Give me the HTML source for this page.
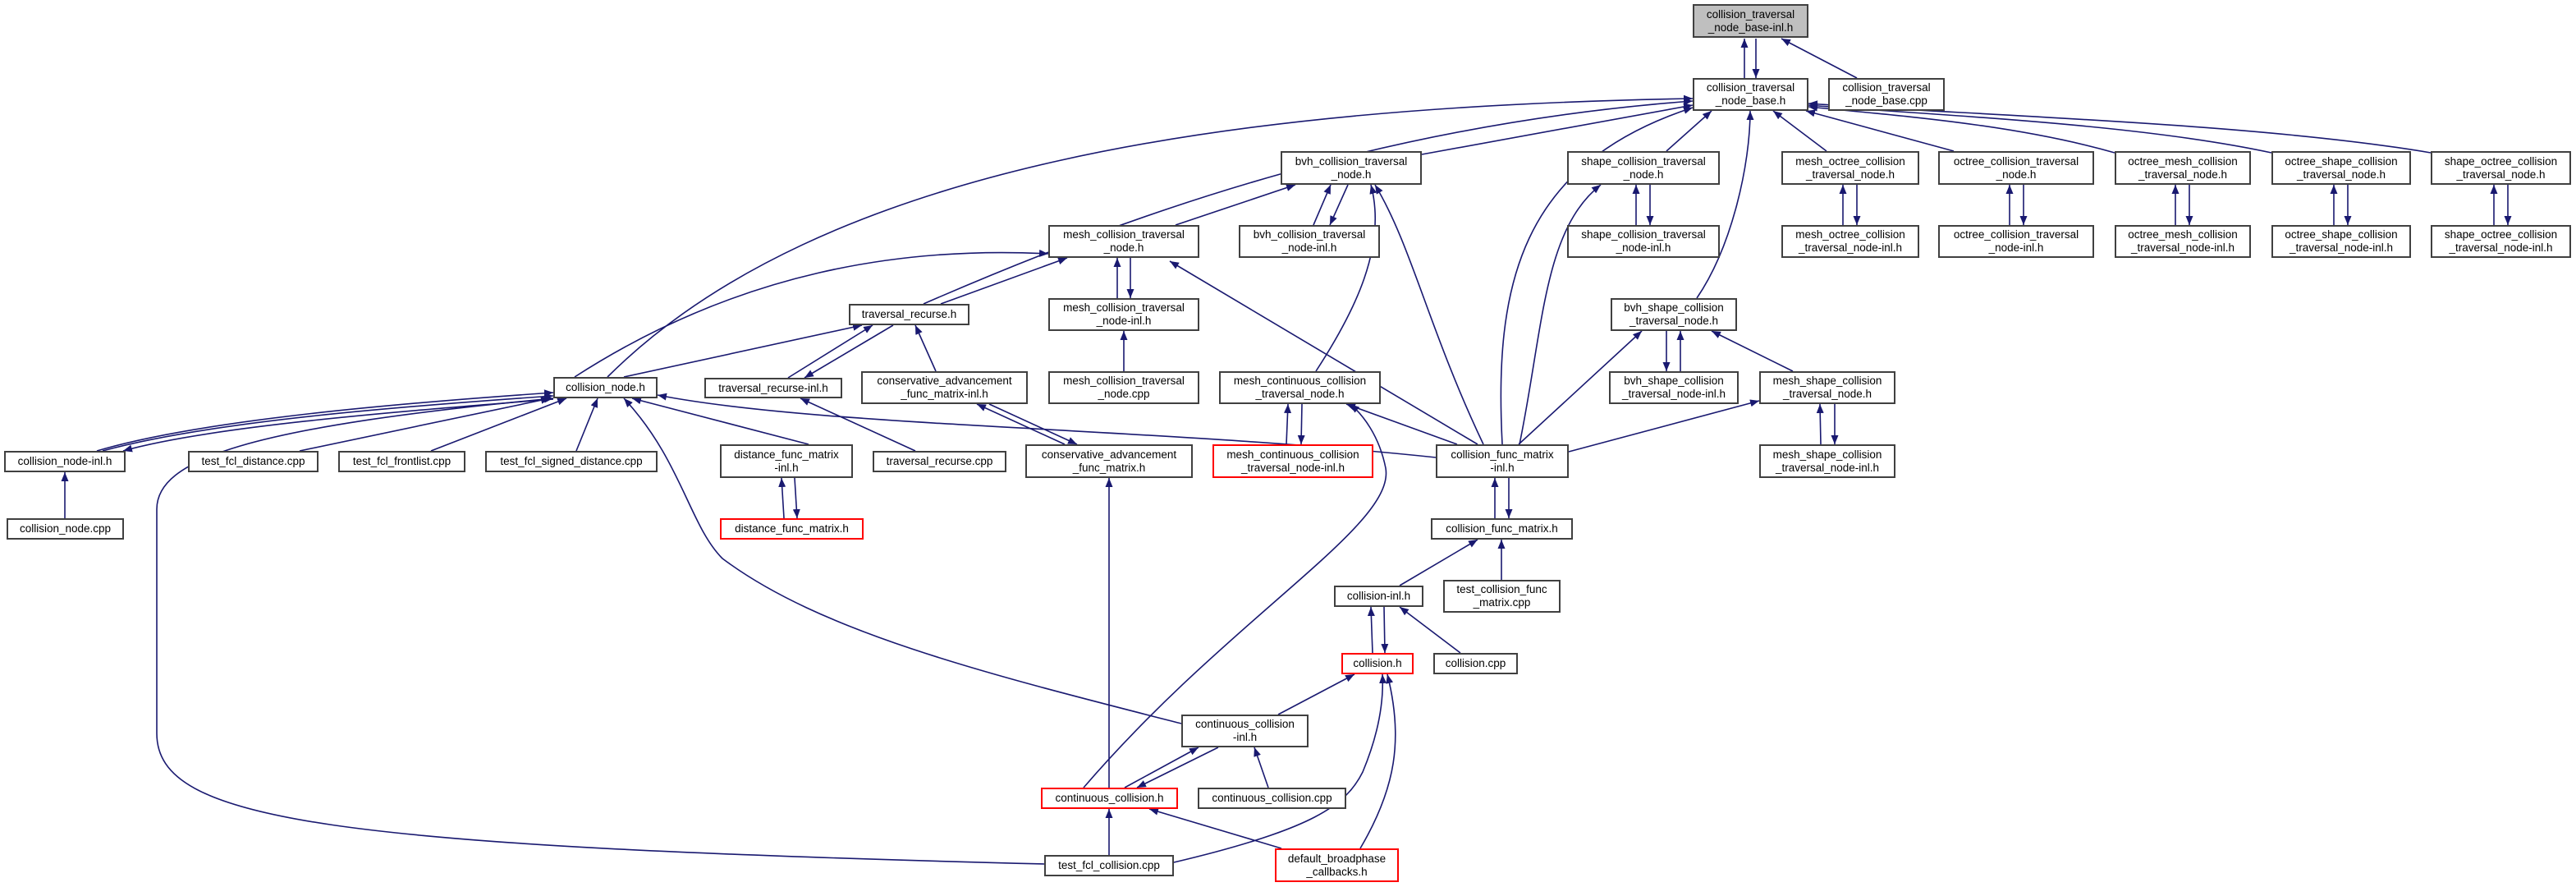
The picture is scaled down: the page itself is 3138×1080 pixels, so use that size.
<!DOCTYPE html>
<html><head><meta charset="utf-8"><style>
html,body{margin:0;padding:0;background:#fff}
#c{position:relative;width:3138px;height:1080px;overflow:hidden;background:#fff}
svg{position:absolute;left:0;top:0}
.n{position:absolute;box-sizing:border-box;border:2px solid #404040;background:#fff;display:flex;align-items:center;justify-content:center;text-align:center;font-family:"Liberation Sans",sans-serif;font-size:13.5px;line-height:16px;color:#000;white-space:nowrap}
.r{border-color:#ff0000}
.g{background:#bfbfbf}
</style></head><body><div id="c">
<svg width="3138" height="1080" viewBox="0 0 3138 1080">
<defs><marker id="a" markerUnits="userSpaceOnUse" markerWidth="12" markerHeight="9" refX="11" refY="4.5" orient="auto"><path d="M0,0 L11,4.5 L0,9 z" fill="#191970"/></marker></defs>
<g fill="none" stroke="#191970" stroke-width="1.6" marker-end="url(#a)">
<path d="M2125,95 L2125,47"/><path d="M2139,47 L2139,95"/><path d="M2262,95 L2170,47"/>
<path d="M740,459 C1000,200 1500,130 2062,120"/>
<path d="M1125,370 C1400,250 1700,150 2062,123"/>
<path d="M1732,188 L2062,128"/>
<path d="M1830,541 C1820,350 1850,200 2062,131"/>
<path d="M2030,184 L2085,135"/>
<path d="M2067,363 C2110,300 2132,200 2132,135"/>
<path d="M2225,184 L2160,135"/>
<path d="M2380,184 L2200,135"/>
<path d="M2576,186 C2450,150 2300,140 2203,130"/>
<path d="M2767,186 C2600,150 2350,140 2203,128"/>
<path d="M2961,186 C2750,150 2400,140 2203,126"/>
<path d="M1432,274 L1578,225"/><path d="M1600,274 L1621,225"/><path d="M1642,225 L1620,274"/>
<path d="M1603,452 C1650,380 1690,300 1670,225"/>
<path d="M1807,541 C1740,400 1720,300 1675,225"/>
<path d="M1993,274 L1993,225"/><path d="M2010,225 L2010,274"/>
<path d="M1851,541 C1880,400 1880,280 1950,225"/>
<path d="M2245,274 L2245,225"/><path d="M2262,225 L2262,274"/>
<path d="M2448,274 L2448,225"/><path d="M2465,225 L2465,274"/>
<path d="M2650,274 L2650,225"/><path d="M2667,225 L2667,274"/>
<path d="M2843,274 L2843,225"/><path d="M2860,225 L2860,274"/>
<path d="M3038,274 L3038,225"/><path d="M3055,225 L3055,274"/>
<path d="M700,459 C900,330 1100,300 1277,309"/>
<path d="M1146,370 L1300,314"/>
<path d="M1361,363 L1361,314"/><path d="M1377,314 L1377,363"/>
<path d="M1800,541 L1425,318"/>
<path d="M1369,452 L1369,403"/>
<path d="M760,459 L1050,396"/><path d="M960,460 L1063,396"/><path d="M1088,396 L980,460"/>
<path d="M1140,452 L1115,396"/>
<path d="M2030,403 L2030,452"/><path d="M2047,452 L2047,403"/>
<path d="M2184,452 L2085,403"/><path d="M1850,541 L2000,403"/>
<path d="M1567,541 L1569,492"/><path d="M1586,492 L1585,541"/>
<path d="M1775,541 L1640,492"/>
<path d="M1320,959 C1500,750 1700,640 1688,570 C1680,530 1660,505 1645,492"/>
<path d="M118,549 C250,510 500,490 674,478"/>
<path d="M125,549 C260,512 500,494 674,482"/>
<path d="M674,486 C500,500 260,518 150,549"/>
<path d="M1272,1052 C400,1030 191,1000 191,893 L191,620 C191,560 300,520 674,485"/>
<path d="M365,549 L670,485"/><path d="M525,549 L690,485"/><path d="M702,549 L728,485"/>
<path d="M985,541 L770,485"/>
<path d="M1749,557 C1400,520 1000,520 801,481"/>
<path d="M1439,881 C1200,820 1000,770 880,680 C840,640 830,560 760,485"/>
<path d="M955,631 L952,582"/><path d="M968,582 L971,631"/>
<path d="M1297,541 L1190,492"/><path d="M1205,492 L1312,541"/>
<path d="M1351,959 L1351,582"/>
<path d="M1115,549 L975,485"/>
<path d="M2218,541 L2217,492"/><path d="M2235,492 L2235,541"/>
<path d="M1911,550 L2143,488"/>
<path d="M1821,631 L1821,582"/><path d="M1838,582 L1838,631"/>
<path d="M1705,713 L1800,657"/><path d="M1829,706 L1829,657"/>
<path d="M1672,795 L1670,739"/><path d="M1686,739 L1687,795"/>
<path d="M1779,795 L1705,739"/>
<path d="M1557,870 L1650,821"/>
<path d="M1430,1050 C1600,1010 1640,980 1660,940 C1685,880 1685,840 1684,821"/>
<path d="M1657,1033 C1700,960 1710,900 1690,821"/>
<path d="M1370,959 L1460,910"/><path d="M1484,910 L1385,959"/>
<path d="M1545,959 L1528,910"/>
<path d="M1351,1041 L1351,985"/><path d="M1561,1033 L1400,985"/>
<path d="M79,631 L79,575"/>
</g></svg>
<div class="n g" style="left:2062px;top:5px;width:141px;height:41px">collision_traversal<br>_node_base-inl.h</div>
<div class="n" style="left:2062px;top:95px;width:141px;height:40px">collision_traversal<br>_node_base.h</div>
<div class="n" style="left:2227px;top:95px;width:142px;height:40px">collision_traversal<br>_node_base.cpp</div>
<div class="n" style="left:1560px;top:184px;width:172px;height:41px">bvh_collision_traversal<br>_node.h</div>
<div class="n" style="left:1909px;top:184px;width:186px;height:41px">shape_collision_traversal<br>_node.h</div>
<div class="n" style="left:2170px;top:184px;width:168px;height:41px">mesh_octree_collision<br>_traversal_node.h</div>
<div class="n" style="left:2361px;top:184px;width:190px;height:41px">octree_collision_traversal<br>_node.h</div>
<div class="n" style="left:2576px;top:184px;width:166px;height:41px">octree_mesh_collision<br>_traversal_node.h</div>
<div class="n" style="left:2767px;top:184px;width:170px;height:41px">octree_shape_collision<br>_traversal_node.h</div>
<div class="n" style="left:2961px;top:184px;width:171px;height:41px">shape_octree_collision<br>_traversal_node.h</div>
<div class="n" style="left:1277px;top:274px;width:184px;height:40px">mesh_collision_traversal<br>_node.h</div>
<div class="n" style="left:1509px;top:274px;width:172px;height:40px">bvh_collision_traversal<br>_node-inl.h</div>
<div class="n" style="left:1909px;top:274px;width:186px;height:40px">shape_collision_traversal<br>_node-inl.h</div>
<div class="n" style="left:2170px;top:274px;width:168px;height:40px">mesh_octree_collision<br>_traversal_node-inl.h</div>
<div class="n" style="left:2361px;top:274px;width:190px;height:40px">octree_collision_traversal<br>_node-inl.h</div>
<div class="n" style="left:2576px;top:274px;width:166px;height:40px">octree_mesh_collision<br>_traversal_node-inl.h</div>
<div class="n" style="left:2767px;top:274px;width:170px;height:40px">octree_shape_collision<br>_traversal_node-inl.h</div>
<div class="n" style="left:2961px;top:274px;width:171px;height:40px">shape_octree_collision<br>_traversal_node-inl.h</div>
<div class="n" style="left:1034px;top:370px;width:147px;height:26px">traversal_recurse.h</div>
<div class="n" style="left:1277px;top:363px;width:184px;height:40px">mesh_collision_traversal<br>_node-inl.h</div>
<div class="n" style="left:1962px;top:363px;width:154px;height:40px">bvh_shape_collision<br>_traversal_node.h</div>
<div class="n" style="left:674px;top:459px;width:127px;height:26px">collision_node.h</div>
<div class="n" style="left:858px;top:460px;width:168px;height:25px">traversal_recurse-inl.h</div>
<div class="n" style="left:1049px;top:452px;width:203px;height:40px">conservative_advancement<br>_func_matrix-inl.h</div>
<div class="n" style="left:1277px;top:452px;width:184px;height:40px">mesh_collision_traversal<br>_node.cpp</div>
<div class="n" style="left:1485px;top:452px;width:197px;height:40px">mesh_continuous_collision<br>_traversal_node.h</div>
<div class="n" style="left:1960px;top:452px;width:158px;height:40px">bvh_shape_collision<br>_traversal_node-inl.h</div>
<div class="n" style="left:2143px;top:452px;width:166px;height:40px">mesh_shape_collision<br>_traversal_node.h</div>
<div class="n" style="left:5px;top:549px;width:148px;height:26px">collision_node-inl.h</div>
<div class="n" style="left:229px;top:549px;width:159px;height:26px">test_fcl_distance.cpp</div>
<div class="n" style="left:412px;top:549px;width:155px;height:26px">test_fcl_frontlist.cpp</div>
<div class="n" style="left:591px;top:549px;width:210px;height:26px">test_fcl_signed_distance.cpp</div>
<div class="n" style="left:877px;top:541px;width:162px;height:41px">distance_func_matrix<br>-inl.h</div>
<div class="n" style="left:1063px;top:549px;width:163px;height:26px">traversal_recurse.cpp</div>
<div class="n" style="left:1249px;top:541px;width:204px;height:41px">conservative_advancement<br>_func_matrix.h</div>
<div class="n r" style="left:1477px;top:541px;width:196px;height:41px">mesh_continuous_collision<br>_traversal_node-inl.h</div>
<div class="n" style="left:1749px;top:541px;width:162px;height:41px">collision_func_matrix<br>-inl.h</div>
<div class="n" style="left:2143px;top:541px;width:166px;height:41px">mesh_shape_collision<br>_traversal_node-inl.h</div>
<div class="n" style="left:8px;top:631px;width:143px;height:26px">collision_node.cpp</div>
<div class="n r" style="left:877px;top:631px;width:175px;height:26px">distance_func_matrix.h</div>
<div class="n" style="left:1743px;top:631px;width:173px;height:26px">collision_func_matrix.h</div>
<div class="n" style="left:1625px;top:713px;width:109px;height:26px">collision-inl.h</div>
<div class="n" style="left:1758px;top:706px;width:143px;height:40px">test_collision_func<br>_matrix.cpp</div>
<div class="n r" style="left:1634px;top:795px;width:88px;height:26px">collision.h</div>
<div class="n" style="left:1746px;top:795px;width:103px;height:26px">collision.cpp</div>
<div class="n" style="left:1439px;top:870px;width:155px;height:40px">continuous_collision<br>-inl.h</div>
<div class="n r" style="left:1268px;top:959px;width:167px;height:26px">continuous_collision.h</div>
<div class="n" style="left:1459px;top:959px;width:181px;height:26px">continuous_collision.cpp</div>
<div class="n" style="left:1272px;top:1041px;width:158px;height:26px">test_fcl_collision.cpp</div>
<div class="n r" style="left:1553px;top:1033px;width:151px;height:41px">default_broadphase<br>_callbacks.h</div>
</div></body></html>
